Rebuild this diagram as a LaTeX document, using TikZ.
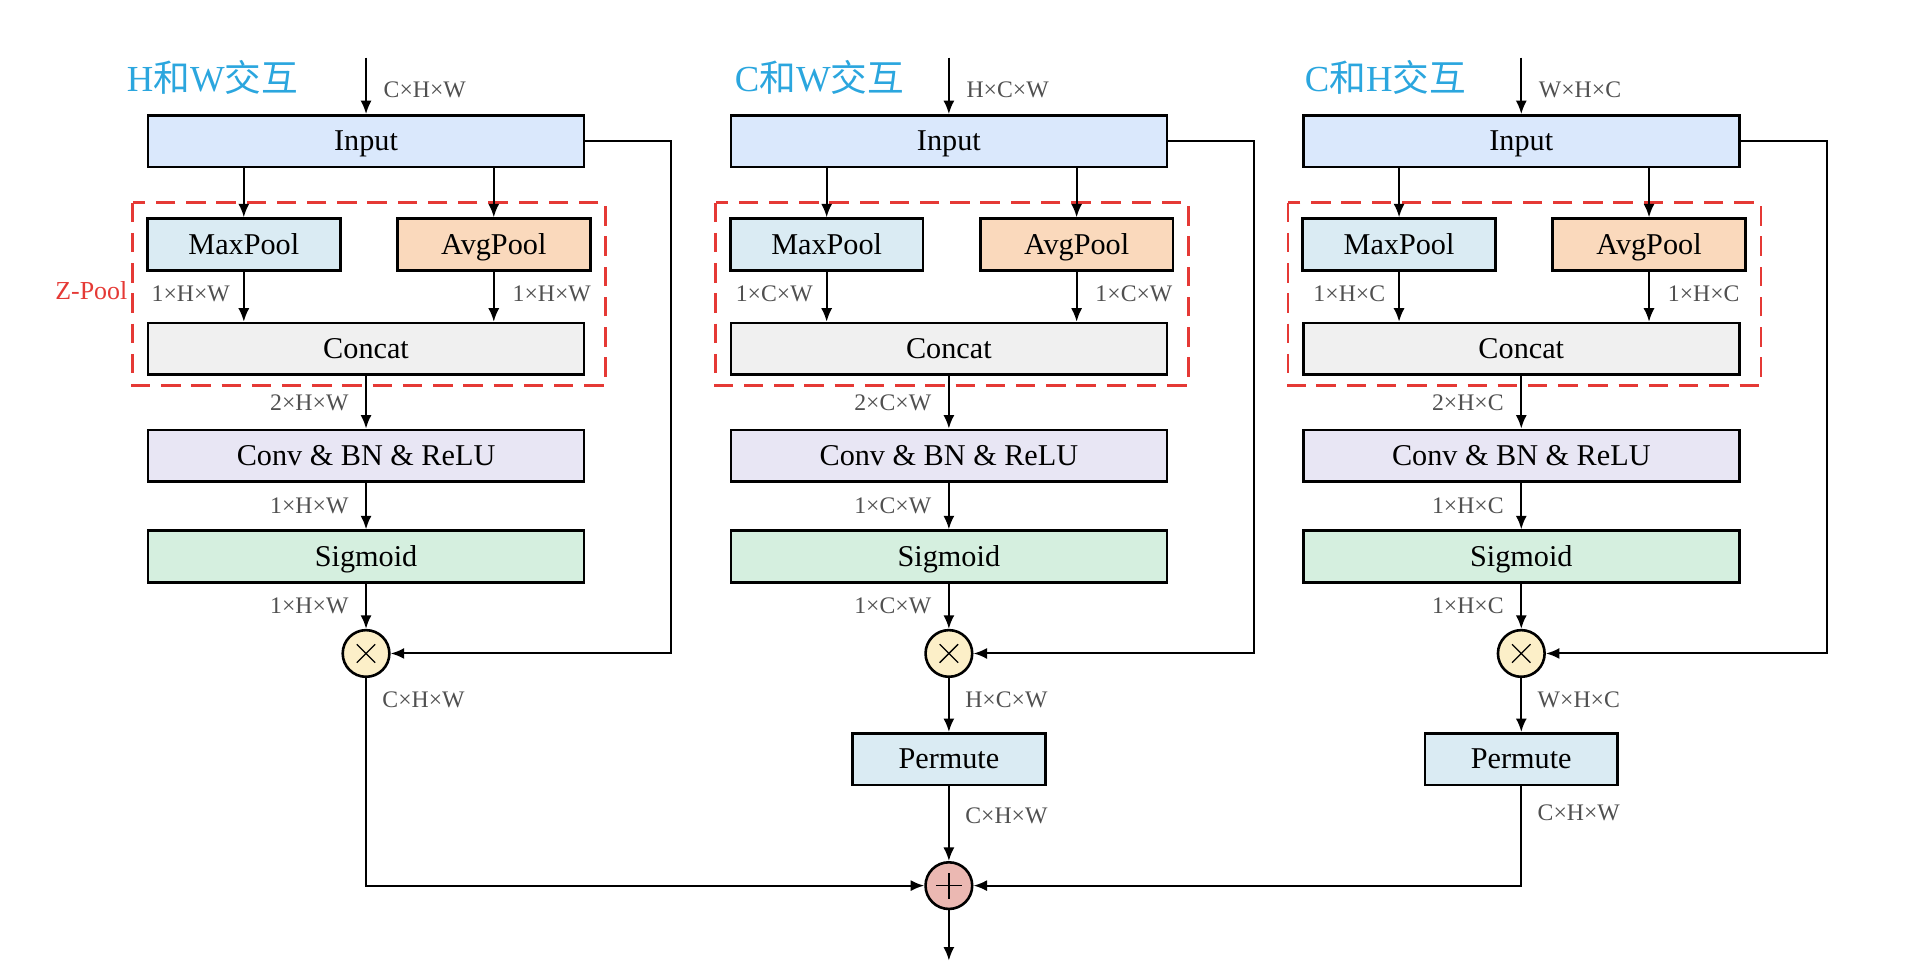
\documentclass[tikz,border=0pt]{standalone}
\usepackage{fontspec}
\setmainfont{Liberation Serif}
\newfontfamily\cjk{Noto Sans CJK SC}
\usetikzlibrary{arrows.meta}
\definecolor{inputblue}{HTML}{DAE8FC}
\definecolor{poolblue}{HTML}{DAEBF3}
\definecolor{avgorange}{HTML}{FAD9BC}
\definecolor{catgray}{HTML}{F0F0F0}
\definecolor{convlilac}{HTML}{E8E6F4}
\definecolor{sigmint}{HTML}{D5EFDF}
\definecolor{mulyellow}{HTML}{FCEFC8}
\definecolor{addpink}{HTML}{EBB8B2}
\definecolor{titleblue}{HTML}{2BA6DE}
\definecolor{zred}{HTML}{E53935}
\definecolor{dimgray}{HTML}{505050}
\tikzset{
    blk/.style={draw, line width=1.2pt, minimum height=0.84cm, text height=11pt, text depth=2pt,
                font=\fontsize{14}{16}\selectfont},
    wide/.style={blk, minimum width=7.1cm},
    narrow/.style={blk, minimum width=3.14cm},
    dimtxt/.style={text=dimgray, font=\fontsize{11}{13}\selectfont, inner sep=0pt},
    ttl/.style={text=titleblue, font=\fontsize{17}{19}\selectfont, inner sep=0pt},
    arr/.style={-{Latex[length=2.2mm,width=1.8mm]}, line width=0.95pt},
    zpool/.style={draw=zred, line width=1.2pt, dash pattern=on 9pt off 5pt},
    op/.style={circle, draw, line width=1.2pt, minimum size=0.76cm, inner sep=0pt},
    mulop/.style={op, fill=mulyellow, path picture={
        \draw[line width=0.6pt] (path picture bounding box.center) ++(-0.15,-0.15) -- ++(0.3,0.3)
              (path picture bounding box.center) ++(-0.15,0.15) -- ++(0.3,-0.3);}},
    addop/.style={op, fill=addpink, path picture={
        \draw[line width=0.6pt] (path picture bounding box.center) ++(-0.21,0) -- ++(0.42,0)
              (path picture bounding box.center) ++(0,-0.21) -- ++(0,0.42);}},
}
\begin{document}
\begin{tikzpicture}
  \useasboundingbox (0,0) rectangle (31.36,-15.94);
  %TITLES
  \node[ttl, anchor=west] (t1) at (2.06,-1.26) {H{\cjk 和}W{\cjk 交互}};
  \node[ttl, anchor=west] (t2) at (11.96,-1.26) {C{\cjk 和}W{\cjk 交互}};
  \node[ttl, anchor=west] (t3) at (21.24,-1.26) {C{\cjk 和}H{\cjk 交互}};
  \node[dimtxt, text=zred, font=\fontsize{12}{14}\selectfont, anchor=east] (zp) at (2.08,-4.74) {Z-Pool};
  %ONE BRANCH PER PANEL
  \foreach \i/\cx/\dimin/\dimp/\dimc/\dimm in {1/5.96/C×H×W/1×H×W/2×H×W/C×H×W,
                                              2/15.45/H×C×W/1×C×W/2×C×W/H×C×W,
                                              3/24.77/W×H×C/1×H×C/2×H×C/W×H×C}{
    \coordinate (top\i) at (\cx,-0.94);
    \node[wide, fill=inputblue] (in\i) at (\cx,-2.30) {Input};
    \draw[zpool] (\cx-3.8,-3.30) rectangle (\cx+3.9,-6.28);
    \node[narrow, fill=poolblue] (max\i) at (\cx-1.99,-3.98) {MaxPool};
    \node[narrow, fill=avgorange] (avg\i) at (\cx+2.08,-3.98) {AvgPool};
    \node[wide, fill=catgray] (cat\i) at (\cx,-5.68) {Concat};
    \node[wide, fill=convlilac] (conv\i) at (\cx,-7.42) {Conv \& BN \& ReLU};
    \node[wide, fill=sigmint] (sig\i) at (\cx,-9.06) {Sigmoid};
    \node[mulop] (mul\i) at (\cx,-10.64) {};
    \coordinate (loop\i) at (\cx+4.97,-2.30);
    %connectors
    \draw[arr] (top\i) -- (in\i);
    \draw[arr] (in\i.south -| max\i) -- (max\i);
    \draw[arr] (in\i.south -| avg\i) -- (avg\i);
    \draw[arr] (max\i) -- (cat\i.north -| max\i);
    \draw[arr] (avg\i) -- (cat\i.north -| avg\i);
    \draw[arr] (cat\i) -- (conv\i);
    \draw[arr] (conv\i) -- (sig\i);
    \draw[arr] (sig\i) -- (mul\i);
    \draw[arr] (in\i.east) -- (loop\i) |- (mul\i.east);
    %sizes
    \node[dimtxt, anchor=west] at (\cx+0.28,-1.46) {\dimin};
    \node[dimtxt, anchor=east] at (\cx-2.21,-4.78) {\dimp};
    \node[dimtxt, anchor=west] at (\cx+2.38,-4.78) {\dimp};
    \node[dimtxt, anchor=east] at (\cx-0.28,-6.56) {\dimc};
    \node[dimtxt, anchor=east] at (\cx-0.28,-8.24) {\dimp};
    \node[dimtxt, anchor=east] at (\cx-0.28,-9.86) {\dimp};
    \node[dimtxt, anchor=west] at (\cx+0.26,-11.40) {\dimm};
  }
  %PERMUTE AND SUM
  \node[narrow, fill=poolblue] (perm2) at (15.45,-12.36) {Permute};
  \node[narrow, fill=poolblue] (perm3) at (24.77,-12.36) {Permute};
  \node[addop] (add) at (15.45,-14.42) {};
  \coordinate (out) at (15.45,-15.64);
  \draw[arr] (mul2) -- (perm2);
  \draw[arr] (mul3) -- (perm3);
  \draw[arr] (perm2) -- (add);
  \draw[arr] (mul1) |- (add);
  \draw[arr] (perm3) |- (add);
  \draw[arr] (add) -- (out);
  \node[dimtxt, anchor=west] at (15.71,-13.28) {C×H×W};
  \node[dimtxt, anchor=west] at (25.03,-13.24) {C×H×W};
\end{tikzpicture}
\end{document}
